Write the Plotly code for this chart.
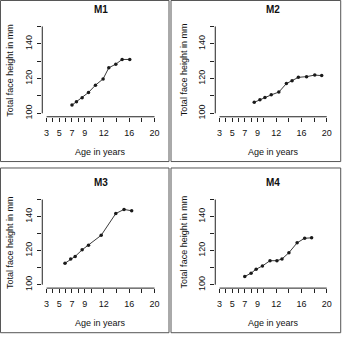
import plotly.graph_objects as go

# ---- data ----
titles = ["M1", "M2", "M3", "M4"]
age_m1 = [7.0, 7.7, 8.6, 9.6, 10.7, 11.9, 12.8, 13.9, 14.9, 16.1]
hgt_m1 = [104.7, 106.6, 108.9, 112.0, 116.2, 119.8, 126.2, 128.3, 131.0, 131.0]
age_m2 = [8.5, 9.4, 10.2, 11.2, 12.4, 13.6, 14.5, 15.5, 16.8, 18.1, 19.2]
hgt_m2 = [106.3, 107.8, 109.1, 110.6, 112.2, 117.1, 118.8, 120.7, 121.1, 122.0, 121.7]
age_m3 = [5.9, 6.8, 7.5, 8.6, 9.6, 11.6, 13.9, 15.2, 16.4]
hgt_m3 = [112.6, 115.1, 116.6, 120.5, 123.2, 129.0, 141.8, 144.2, 143.4]
age_m4 = [7.0, 8.0, 8.8, 9.8, 11.0, 12.1, 12.9, 14.0, 15.3, 16.5, 17.6]
hgt_m4 = [104.8, 106.8, 109.1, 111.0, 114.1, 114.1, 115.1, 118.8, 124.6, 127.3, 127.5]

x_ticks = [3, 4, 5, 6, 7, 8, 9, 10, 12, 14, 16, 18, 20]
x_labels = ["3", "", "5", "", "7", "", "9", "", "12", "", "16", "", "20"]
y_ticks = [100, 110, 120, 130, 140, 150]
y_labels = ["100", "", "120", "", "140", ""]
x_title = "Age in years"
y_title = "Total face height in mm"

series = [(age_m1, hgt_m1), (age_m2, hgt_m2), (age_m3, hgt_m3), (age_m4, hgt_m4)]

W, H = 343, 337
FONT = "Liberation Sans, Arial, sans-serif"

# pixel geometry of the panels (plot areas)
col_x = [(42.4, 159.3), (215.9, 332.0)]
row_y = [(23.2, 117.8), (197.9, 290.7)]
boxes_x = [(0.5, 169.5), (171.5, 341.7)]
boxes_y = [(0.5, 163.0), (169.5, 335.7)]
ytitle_x = [10.0, 184.8]

def px(x):
    return x / W

def py(y):
    return (H - y) / H

fig = go.Figure()
shapes = []
annotations = []
layout = {}

for i, (ages, hgts) in enumerate(series):
    r, c = divmod(i, 2)
    n = "" if i == 0 else str(i + 1)
    xa, ya = "x" + n, "y" + n
    fig.add_trace(go.Scatter(
        x=ages, y=hgts, xaxis=xa, yaxis=ya, mode="lines+markers",
        line=dict(color="#3a3a3a", width=1),
        marker=dict(color="#1a1a1a", size=3.5),
        showlegend=False, cliponaxis=False))
    x0, x1 = col_x[c]
    y0, y1 = row_y[r]
    layout["xaxis" + n] = dict(
        domain=[px(x0), px(x1)], range=[2.32, 20.68], anchor=ya,
        tickvals=x_ticks, ticktext=x_labels, ticks="outside", ticklen=4,
        tickwidth=1, tickcolor="#222", showgrid=False, zeroline=False,
        showline=False, tickfont=dict(family=FONT, size=9, color="#111"),
        ticklabelstandoff=3, fixedrange=True)
    layout["yaxis" + n] = dict(
        domain=[py(y1), py(y0)], range=[98, 152], anchor=xa,
        tickvals=y_ticks, ticktext=y_labels, ticks="outside", ticklen=4,
        tickwidth=1, tickcolor="#222", showgrid=False, zeroline=False,
        showline=False, tickangle=-90,
        tickfont=dict(family=FONT, size=9, color="#111"),
        ticklabelstandoff=2, fixedrange=True)
    # axis lines spanning only the tick range (R style)
    shapes.append(dict(type="line", xref=xa, yref=ya + " domain",
                       x0=x_ticks[0], x1=x_ticks[-1], y0=0, y1=0,
                       line=dict(color="#222", width=1)))
    shapes.append(dict(type="line", xref=xa + " domain", yref=ya,
                       x0=0, x1=0, y0=y_ticks[0], y1=y_ticks[-1],
                       line=dict(color="#222", width=1)))
    # panel border
    bx0, bx1 = boxes_x[c]
    by0, by1 = boxes_y[r]
    shapes.append(dict(type="rect", xref="paper", yref="paper",
                       x0=px(bx0), x1=px(bx1), y0=py(by1), y1=py(by0),
                       line=dict(color="#555", width=1)))
    cx = px((x0 + x1) / 2)
    annotations.append(dict(text="<b>" + titles[i] + "</b>", xref="paper", yref="paper",
                            x=cx, y=py(boxes_y[r][0] + 9.5 if r == 0 else 184.0),
                            showarrow=False, xanchor="center", yanchor="middle",
                            font=dict(family=FONT, size=10, color="#111")))
    annotations.append(dict(text=x_title, xref="paper", yref="paper",
                            x=cx, y=py(y1 + 35.5), showarrow=False,
                            xanchor="center", yanchor="middle",
                            font=dict(family=FONT, size=9, color="#111")))
    annotations.append(dict(text=y_title, xref="paper", yref="paper",
                            x=px(ytitle_x[c]), y=py((y0 + y1) / 2), textangle=-90,
                            showarrow=False, xanchor="center", yanchor="middle",
                            font=dict(family=FONT, size=9, color="#111")))

fig.update_layout(
    width=W, height=H, margin=dict(l=0, r=0, t=0, b=0),
    paper_bgcolor="white", plot_bgcolor="white",
    shapes=shapes, annotations=annotations, **layout)

fig.write_html("out.html")
